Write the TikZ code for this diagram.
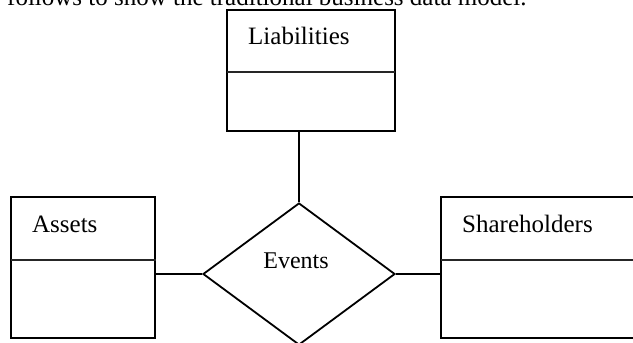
\documentclass[tikz,border=0pt]{standalone}
\usepackage{fontspec}
\setmainfont{Liberation Serif}
\usetikzlibrary{shapes.geometric}
\begin{document}
\begin{tikzpicture}[x=1pt,y=1pt,
  entity/.style={draw=black, line width=1.8pt, rectangle, inner sep=0pt},
  rel/.style={draw=black, line width=1.8pt, diamond, inner sep=0pt, shape aspect=1.35, minimum width=192pt, minimum height=142pt},
  divider/.style={draw=black!85, line width=1.5pt},
  conn/.style={draw=black, line width=1.8pt},
  lbl/.style={font=\fontsize{25}{28}\selectfont, inner sep=0pt, anchor=base west}
]
\useasboundingbox (0,0) rectangle (633,343);
\clip (0,0) rectangle (633,343);
\fill[white] (0,0) rectangle (633,343);
% cut-off running text above
\node[lbl] (caption) at (7,337) {follows to show the traditional business data model.};
% entities
\node[entity, minimum width=168pt, minimum height=121pt] (liab) at (311,272.5) {};
\node[entity, minimum width=144pt, minimum height=141pt] (assets) at (83,75.5) {};
\node[entity, minimum width=230pt, minimum height=141pt] (share) at (556,75.5) {};
% dividers
\coordinate (liabdivL) at (227,271);
\coordinate (liabdivR) at (395,271);
\draw[divider] (liabdivL) -- (liabdivR);
\coordinate (assdivL) at (11,83);
\coordinate (assdivR) at (156,83);
\draw[divider] (assdivL) -- (assdivR);
\coordinate (shdivL) at (441,83);
\coordinate (shdivR) at (671,83);
\draw[divider] (shdivL) -- (shdivR);
% labels
\node[lbl] (liabt) at (248,298) {Liabilities};
\node[lbl] (assetst) at (32,110) {Assets};
\node[lbl] (sharet) at (462,110) {Shareholders};
% relationship
\node[rel] (events) at (299,69) {};
\node[font=\fontsize{24}{28}\selectfont, inner sep=0pt, anchor=base] (eventst) at (296,74) {Events};
% connectors
\draw[conn] (events.north |- liab.south) -- (events.north);
\draw[conn] (assets.east |- events.west) -- (events.west);
\draw[conn] (events.east) -- (share.west |- events.east);
\end{tikzpicture}
\end{document}
